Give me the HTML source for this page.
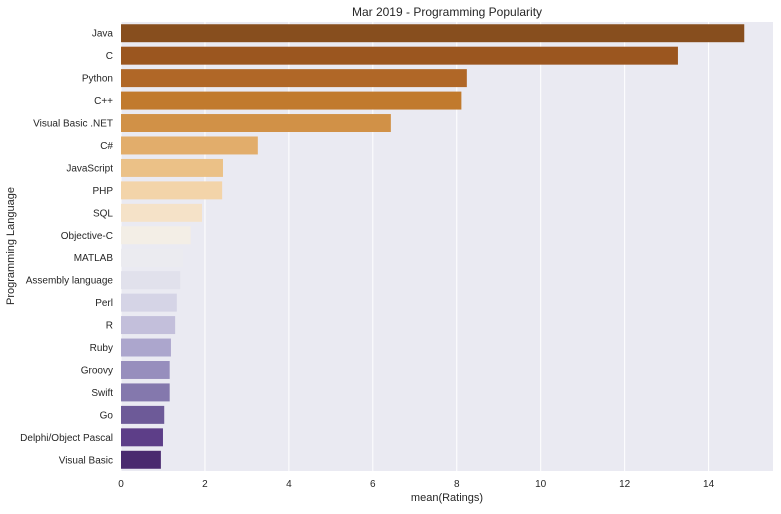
<!DOCTYPE html>
<html><head><meta charset="utf-8"><style>
body{margin:0;background:#fff;}
svg text{font-family:"Liberation Sans",sans-serif;fill:#262626;}
</style></head><body>
<svg id="chart" width="781" height="509">
<rect x="121" y="22" width="652" height="449" fill="#eaeaf2"/>
<g id="grid"></g><g id="bars"></g><g id="ylabels"></g><g id="xticks"></g>
<text x="447" y="16" font-size="12" text-anchor="middle">Mar 2019 - Programming Popularity</text>
<text x="447" y="501" font-size="11" text-anchor="middle">mean(Ratings)</text>
<text x="0" y="0" font-size="11" text-anchor="middle" transform="translate(14,246) rotate(-90)">Programming Language</text>
</svg>
<script>
const categories=["Java","C","Python","C++","Visual Basic .NET","C#","JavaScript","PHP","SQL","Objective-C","MATLAB","Assembly language","Perl","R","Ruby","Groovy","Swift","Go","Delphi/Object Pascal","Visual Basic"];
const values=[14.85,13.27,8.24,8.11,6.43,3.26,2.43,2.41,1.93,1.66,1.48,1.41,1.33,1.29,1.19,1.16,1.16,1.03,1.00,0.95];
const colors=["#874e1e","#9b561f","#b06727","#c17a2d","#d19147","#e2ad6b","#ebc187","#f3d4a9","#f5e2c8","#f3eee6","#ebebf0","#e1e1ec","#d5d4e6","#c3bfdb","#aca6cd","#978ebd","#8478ad","#6d5a98","#5d3e88","#4a2a6f"];
const xticks=[0,2,4,6,8,10,12,14];
const NS="http://www.w3.org/2000/svg";
const x0=121,unit=41.97,plotTop=22,band=449/categories.length;
const xs=v=>x0+v*unit, yb=i=>plotTop+i*band;
function mk(t,a,p){const e=document.createElementNS(NS,t);for(const k in a)e.setAttribute(k,a[k]);document.getElementById(p).appendChild(e);return e;}
xticks.forEach(t=>{
 const g=mk("line",{x1:xs(t),x2:xs(t),y1:plotTop,y2:471,stroke:"#fff","stroke-width":1},"grid");
 
 
 const l=mk("text",{x:xs(t),y:487,"font-size":10,"text-anchor":"middle"},"xticks");l.textContent=t;
 
 
});
categories.forEach((c,i)=>{
 const r=mk("rect",{x:x0,y:yb(i)+band*0.1,width:xs(values[i])-x0,height:band*0.8,fill:colors[i]},"bars");
 
 
 const l=mk("text",{x:113,y:yb(i)+band/2+3.5,"font-size":10,"text-anchor":"end"},"ylabels");l.textContent=c;
 
 
});
</script>
</body></html>
